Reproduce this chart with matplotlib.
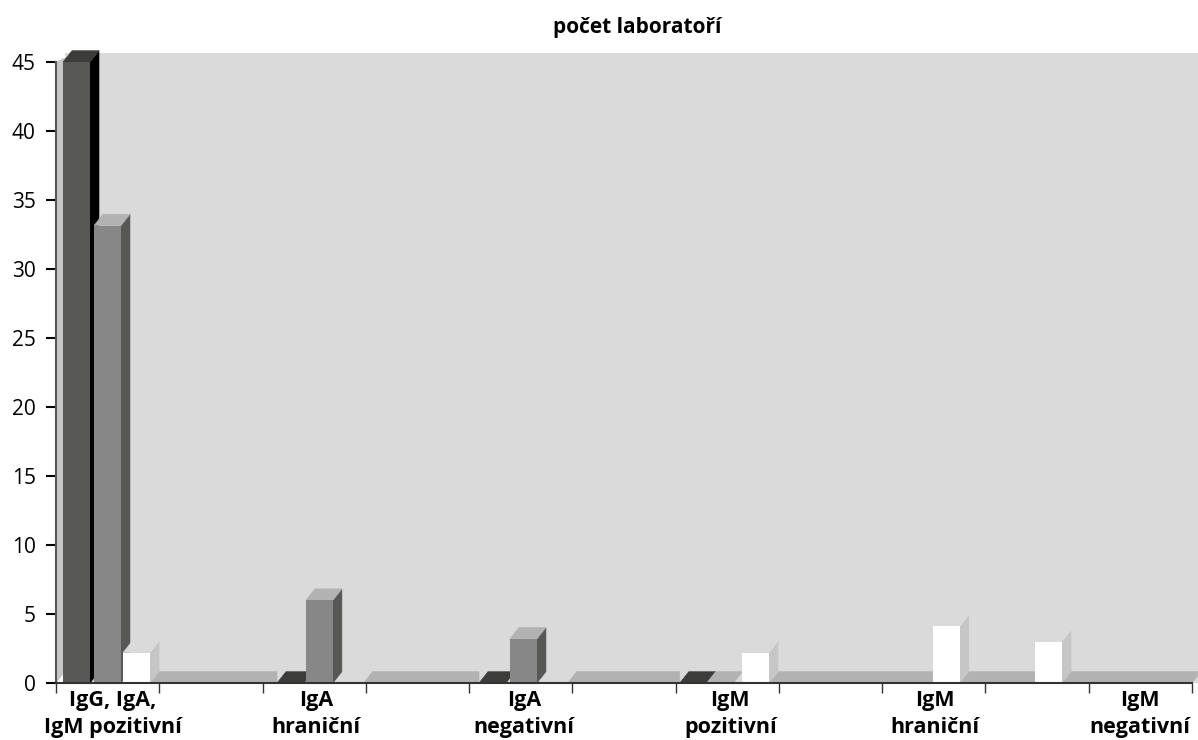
import matplotlib
matplotlib.use('Agg')
import matplotlib.pyplot as plt
from matplotlib.patches import Polygon, Rectangle

# hodnoty
labels = ['IgG, IgA,\nIgM pozitivní', 'IgA\nhraniční', 'IgA\nnegativní',
          'IgM\npozitivní', 'IgM\nhraniční', 'IgM\nnegativní']
y_ticks = [0, 5, 10, 15, 20, 25, 30, 35, 40, 45]

dark_vals = [45, 0, 0, 0]
mid_vals = [33.15, 6, 3.2, 0]
white_vals = [2.2, 0, 0, 2.2, 4.1, 3]

# polohy sloupcu na ose x (jednotky = jeden dilek osy)
dark_x = [0.068, 2.14, 4.096, 6.04]
mid_x = [0.368, 2.42, 4.396, 6.30]
white_x = [0.649, 2.71, 4.687, 6.643, 8.49, 9.48]
label_x = [0.55, 2.52, 4.53, 6.53, 8.51, 10.5]
floor_runs = [(0.9, 2.14), (2.97, 4.096), (4.94, 6.04), (6.91, 8.49), (8.75, 9.48), (9.74, 11)]

W = 0.2615    # sirka sloupce
DX = 0.087    # hloubka 3D v x
DY = 0.82     # hloubka 3D v y

WALL = '#dadada'
SIDE_WALL = '#c6c6c6'
FLOOR = '#b2b2b2'

plt.rcParams['font.family'] = ['Open Sans', 'DejaVu Sans']

fig = plt.figure(figsize=(11.98, 7.40), dpi=100)
ax = fig.add_axes([56 / 1198, (740 - 683) / 740, 1136 / 1198, 621 / 740])
ax.set_xlim(0, 11)
ax.set_ylim(0, 45)


def poly(pts, color, z):
    ax.add_patch(Polygon(pts, closed=True, facecolor=color, edgecolor=color, linewidth=0.4, clip_on=False, zorder=z))


def draw_bars(xs, vals, front, top, side, z):
    for x, v in zip(xs, vals):
        if v > 0:
            poly([(x + W, 0), (x + W + DX, DY), (x + W + DX, v + DY), (x + W, v)], side, z)
        poly([(x, v), (x + DX, v + DY), (x + W + DX, v + DY), (x + W, v)], top, z)
        if v > 0:
            ax.bar(x, v, W, align='edge', color=front, linewidth=0, zorder=z)


# zadni stena, bocni stena
ax.add_patch(Rectangle((DX, 0), 11 + 6 / 103.27 - DX, 45.65, facecolor=WALL, edgecolor='none', clip_on=False, zorder=0.5))
poly([(0, 0), (DX, DY), (DX, 45.3), (0, 45)], SIDE_WALL, 0.6)

# podlaha
for a, b in floor_runs:
    poly([(a, 0), (a + DX, DY), (b + DX if b == 11 else b, DY), (b, 0)], FLOOR, 1)

draw_bars(dark_x, dark_vals, '#575756', '#3c3c3b', '#000000', 2)
draw_bars(mid_x, mid_vals, '#878787', '#b2b2b2', '#575756', 3)
draw_bars(white_x, white_vals, '#ffffff', WALL, SIDE_WALL, 4)

for s in ['top', 'right']:
    ax.spines[s].set_visible(False)
ax.spines['left'].set_color('#555555')
ax.spines['left'].set_linewidth(1.5)
ax.spines['bottom'].set_color('#333333')
ax.spines['bottom'].set_linewidth(1.5)
ax.spines['left'].set_zorder(6)
ax.spines['bottom'].set_zorder(6)

ax.set_yticks(y_ticks)
ax.tick_params(axis='y', length=7.2, width=1.5, color='black', labelsize=15, pad=7.5)

ax.set_xticks(range(12))
ax.set_xticklabels([])
ax.tick_params(axis='x', which='major', length=7.2, width=1, color='#333333')
ax.set_xticks(label_x, minor=True)
ax.set_xticklabels(labels, minor=True, fontsize=15.5, fontweight='bold', linespacing=1.4)
ax.tick_params(axis='x', which='minor', length=0, pad=5)

fig.text(637.5 / 1198, 1 - 27 / 740, 'počet laboratoří', ha='center', va='center', fontsize=15, fontweight='bold')

fig.savefig('out.png', dpi=100)
